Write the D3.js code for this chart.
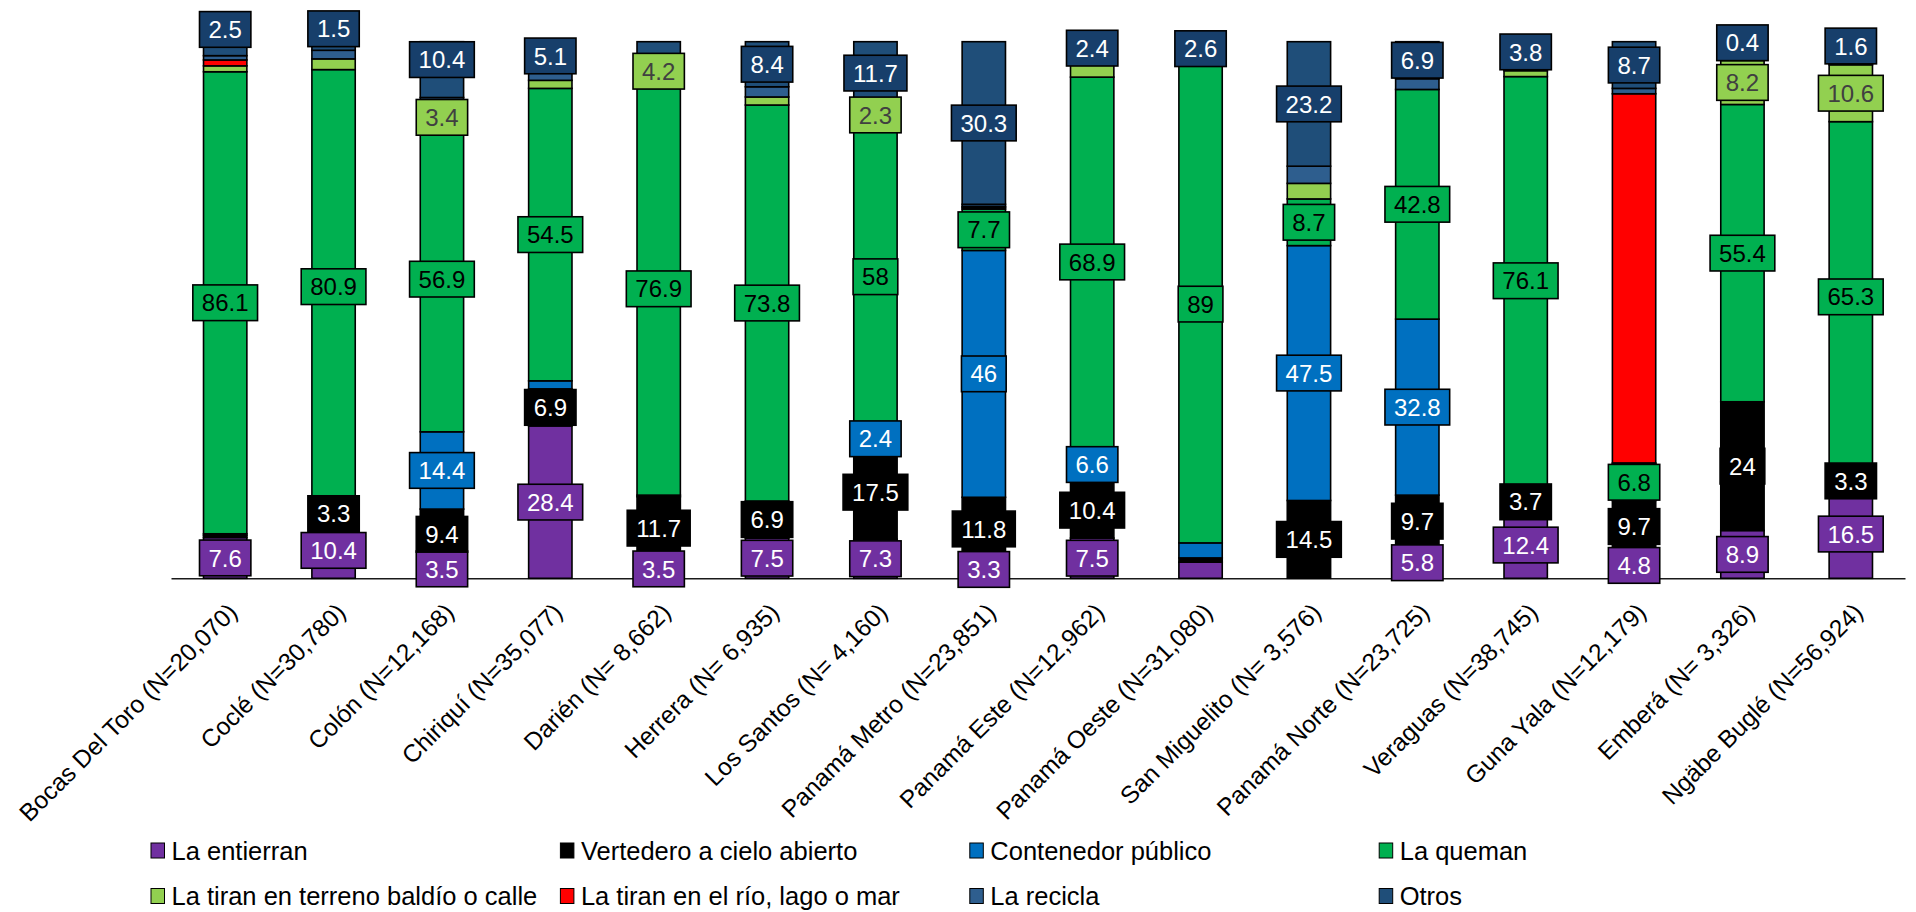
<!DOCTYPE html>
<html>
<head>
<meta charset="utf-8">
<script src="https://cdn.jsdelivr.net/npm/d3@7"></script>
<style>
  html, body { margin: 0; padding: 0; background: #fff; }
  svg { display: block; font-family: "Liberation Sans", Arial, Helvetica, sans-serif; }
</style>
</head>
<body>
<svg id="chart" width="1916" height="912"></svg>
<script>
// Regions, with number of households surveyed
const categories = [
  "Bocas Del Toro (N=20,070)", "Coclé (N=30,780)", "Colón (N=12,168)", "Chiriquí (N=35,077)",
  "Darién (N= 8,662)", "Herrera (N= 6,935)", "Los Santos (N= 4,160)", "Panamá Metro (N=23,851)",
  "Panamá Este (N=12,962)", "Panamá Oeste (N=31,080)", "San Miguelito (N= 3,576)", "Panamá Norte (N=23,725)",
  "Veraguas (N=38,745)", "Guna Yala (N=12,179)", "Emberá (N= 3,326)", "Ngäbe Buglé (N=56,924)"
];

const seriesNames = [
  "La entierran", "Vertedero a cielo abierto", "Contenedor público", "La queman",
  "La tiran en terreno baldío o calle", "La tiran en el río, lago o mar", "La recicla", "Otros"
];

// Share of households (%) by what they do with their garbage
const entierran  = [7.6, 10.4, 3.5, 28.4, 3.5, 7.5, 7.3, 3.3, 7.5, 3.0, 0, 5.8, 12.4, 4.8, 8.9, 16.5];
const vertedero  = [0.4, 3.3, 9.4, 6.9, 11.7, 6.9, 17.5, 11.8, 10.4, 0.8, 14.5, 9.7, 3.7, 9.7, 24, 3.3];
const contenedor = [0.3, 0.2, 14.4, 1.5, 0.3, 0, 2.4, 46, 6.6, 2.8, 47.5, 32.8, 1.3, 0, 0, 0];
const queman     = [86.1, 80.9, 56.9, 54.5, 76.9, 73.8, 58, 7.7, 68.9, 89, 8.7, 42.8, 76.1, 6.8, 55.4, 65.3];
const baldio     = [1.1, 2.0, 3.4, 1.5, 4.2, 1.5, 2.3, 0.3, 4.2, 0.5, 2.9, 0, 1.1, 0.2, 8.2, 10.6];
const rio        = [1.1, 0, 0, 0, 0, 0, 0, 0.2, 0, 0, 0, 0, 0, 68.8, 0, 0];
const recicla    = [0.8, 1.6, 2.0, 2.0, 0, 1.9, 0.8, 0.4, 0, 1.3, 3.2, 2.0, 1.6, 1.0, 3.1, 2.7];
const otros      = [2.5, 1.5, 10.4, 5.1, 3.4, 8.4, 11.7, 30.3, 2.4, 2.6, 23.2, 6.9, 3.8, 8.7, 0.4, 1.6];

const seriesValues = [entierran, vertedero, contenedor, queman, baldio, rio, recicla, otros];

// Styling
const seriesColors = ["#7030A0", "#000000", "#0070C0", "#00B050", "#92D050", "#FF0000", "#2E5E8E", "#1F4E79"];
const labelFills   = ["#7030A0", "#000000", "#0070C0", "#00B050", "#92D050", null, null, "#173F6B"];
const labelInk     = ["#FFFFFF", "#FFFFFF", "#FFFFFF", "#000000", "#404040", null, null, "#FFFFFF"];
const minLabelValue = 2.2;            // smaller slices carry no label (except "Otros")
const hiddenLabels = new Set([
  "Darién (N= 8,662)|Otros",
  "Panamá Este (N=12,962)|La tiran en terreno baldío o calle",
  "Panamá Oeste (N=31,080)|La entierran",
  "Panamá Oeste (N=31,080)|Contenedor público",
  "San Miguelito (N= 3,576)|La tiran en terreno baldío o calle"
]);
// labels lifted above their slice so they stay readable (px)
const labelLift = {
  "Bocas Del Toro (N=20,070)|Otros": -19.5,
  "Coclé (N=30,780)|Otros": -17.5,
  "Colón (N=12,168)|Otros": -10
};

const VALUE_FONT = 24;
const AXIS_FONT = 24.5;
const LEGEND_FONT = 25.5;
const svg = d3.select("#chart");

const x = d3.scaleBand()
  .domain(categories)
  .range([171, 1905])
  .paddingInner(0.6)
  .paddingOuter(0.3);

const y = d3.scaleLinear().domain([0, 100]).range([578.3, 41.7]);

const rows = categories.map((c, i) => {
  const r = { category: c };
  seriesNames.forEach((s, j) => { r[s] = seriesValues[j][i]; });
  return r;
});

const layers = d3.stack().keys(seriesNames)(rows);

// Category axis
const axis = svg.append("g")
  .attr("transform", `translate(0,${y(0)})`)
  .call(d3.axisBottom(x).tickSize(0).tickSizeOuter(0));
axis.select(".domain").attr("stroke", "#1a1a1a").attr("stroke-width", 1.5);
axis.selectAll(".tick text")
  .attr("font-family", "\"Liberation Sans\", Arial, sans-serif")
  .attr("font-size", AXIS_FONT)
  .attr("fill", "#000")
  .attr("text-anchor", "end")
  .attr("x", 0).attr("y", 0).attr("dy", "0.72em")
  .attr("transform", "translate(1,23) rotate(-45)");

// Stacked bars
const barG = svg.append("g");
layers.forEach((layer, j) => {
  barG.append("g")
    .attr("fill", seriesColors[j])
    .attr("stroke", "#000")
    .attr("stroke-width", 1.6)
    .selectAll("rect")
    .data(layer.filter(d => d[1] - d[0] > 0))
    .join("rect")
      .attr("x", d => x(d.data.category))
      .attr("width", x.bandwidth())
      .attr("y", d => y(d[1]))
      .attr("height", d => y(d[0]) - y(d[1]));
});

// Value labels in boxes
const labelG = svg.append("g");
layers.forEach((layer, j) => {
  if (!labelFills[j]) return;
  const name = seriesNames[j];
  layer.forEach(d => {
    const v = d.data[name];
    const key = d.data.category + "|" + name;
    if (!(v > 0)) return;
    if (j !== 7 && v < minLabelValue) return;
    if (hiddenLabels.has(key)) return;
    const cx = x(d.data.category) + x.bandwidth() / 2;
    const cy = y((d[0] + d[1]) / 2) + (labelLift[key] || 0);
    const g = labelG.append("g").attr("transform", `translate(${cx},${cy})`);
    const rect = g.append("rect").attr("fill", labelFills[j]).attr("stroke", "#000").attr("stroke-width", 1.6);
    const t = g.append("text")
      .attr("text-anchor", "middle")
      .attr("dy", "0.36em")
      .attr("font-size", VALUE_FONT)
      .attr("fill", labelInk[j])
      .text(String(v));
    const w = t.node().getComputedTextLength() + 18;
    const h = 35.7;
    rect.attr("x", -w / 2).attr("y", -h / 2).attr("width", w).attr("height", h);
  });
});

// Legend: four columns, two rows
const legend = svg.append("g");
const item = legend.selectAll("g")
  .data(seriesNames)
  .join("g")
  .attr("transform", (d, i) => `translate(${151 + (i % 4) * 409.4},${850.5 + Math.floor(i / 4) * 45.5})`);
item.append("rect")
  .attr("x", 0).attr("y", -7.5).attr("width", 13.5).attr("height", 15)
  .attr("fill", (d, i) => seriesColors[i])
  .attr("stroke", "#000").attr("stroke-width", 1);
item.append("text")
  .attr("x", 20.5).attr("dy", "0.36em")
  .attr("font-size", LEGEND_FONT)
  .attr("fill", "#000")
  .text(d => d);
</script>
</body>
</html>
